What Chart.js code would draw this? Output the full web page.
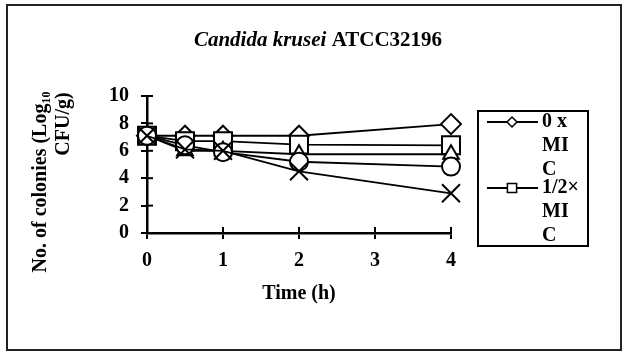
<!DOCTYPE html>
<html>
<head>
<meta charset="utf-8">
<script src="https://cdn.jsdelivr.net/npm/chart.js@4/dist/chart.umd.min.js"></script>
<style>
html,body{margin:0;padding:0;background:#fff;}
#wrap{position:absolute;left:0;top:0;width:624px;height:354px;}
</style>
</head>
<body>
<div id="wrap"><canvas id="c" width="624" height="354"></canvas></div>
<script>
const timePoints = [0, 0.5, 1, 2, 4];
const seriesLabels = ["0 x MIC", "1/2× MIC", "1× MIC", "2× MIC", "4× MIC"];
const zeroMIC = [7.1, 7.1, 7.1, 7.1, 7.95];
const halfMIC = [7.1, 6.7, 6.7, 6.45, 6.4];
const oneMIC = [7.1, 6.0, 6.0, 5.75, 5.75];
const twoMIC = [7.1, 6.4, 5.9, 5.2, 4.85];
const fourMIC = [7.1, 6.1, 6.0, 4.5, 2.9];
const yTicks = [0, 2, 4, 6, 8, 10];
const xTicks = [0, 1, 2, 3, 4];
const titleItalic = "Candida krusei";
const titleRest = " ATCC32196";
const xTitle = "Time (h)";
const yTitleLines = ["No. of colonies (Log₁₀", "CFU/g)"];
const legendLines = [["0 x", "MI", "C"], ["1/2×", "MI", "C"]];

const seriesValues = [zeroMIC, halfMIC, oneMIC, twoMIC, fourMIC];
const styles = [
  {ps: 'rectRot', r: 10, order: 5},
  {ps: 'rect', r: 12.7, order: 4},
  {ps: 'triangle', r: 9, order: 3},
  {ps: 'circle', r: 9, order: 2},
  {ps: 'crossRot', r: 12.7, order: 1}
];
const SERIF = "'Liberation Serif', 'Times New Roman', serif";

const datasets = seriesValues.map((vals, i) => ({
  label: seriesLabels[i],
  data: vals.map((v, k) => ({x: timePoints[k], y: v})),
  borderColor: '#000',
  borderWidth: 1.8,
  pointStyle: styles[i].ps,
  pointRadius: styles[i].r,
  pointBorderWidth: 2,
  pointBorderColor: '#000',
  pointBackgroundColor: '#fff',
  order: styles[i].order,
  tension: 0,
  fill: false,
  clip: false
}));

const decor = {
  id: 'decor',
  afterDraw(chart) {
    const ctx = chart.ctx;
    const xs = chart.scales.x, ys = chart.scales.y;
    ctx.save();
    ctx.strokeStyle = '#000';
    ctx.lineWidth = 2;
    yTicks.forEach(v => {
      const py = ys.getPixelForValue(v);
      ctx.beginPath(); ctx.moveTo(xs.left, py); ctx.lineTo(xs.left + 6, py); ctx.stroke();
    });
    xTicks.forEach(v => {
      const px = xs.getPixelForValue(v);
      ctx.beginPath(); ctx.moveTo(px, ys.bottom); ctx.lineTo(px, ys.bottom - 6); ctx.stroke();
    });
    ctx.fillStyle = '#000';
    ctx.textBaseline = 'middle';
    ctx.font = 'italic bold 21px ' + SERIF;
    const w1 = ctx.measureText(titleItalic).width;
    ctx.font = 'bold 21px ' + SERIF;
    const w2 = ctx.measureText(titleRest).width;
    const tx = 318 - (w1 + w2) / 2;
    ctx.font = 'italic bold 21px ' + SERIF;
    ctx.textAlign = 'left';
    ctx.fillText(titleItalic, tx, 41);
    ctx.font = 'bold 21px ' + SERIF;
    ctx.fillText(titleRest, tx + w1, 41);
    ctx.font = 'bold 20px ' + SERIF;
    ctx.textAlign = 'center';
    ctx.save(); ctx.translate(41, 182); ctx.rotate(-Math.PI / 2); ctx.fillText(yTitleLines[0], 0, 0); ctx.restore();
    ctx.save(); ctx.translate(64, 124); ctx.rotate(-Math.PI / 2); ctx.fillText(yTitleLines[1], 0, 0); ctx.restore();
    ctx.lineWidth = 2;
    ctx.strokeRect(478, 111, 110, 135);
    const entries = [{y: 122, ps: 'rectRot', r: 5}, {y: 188, ps: 'rect', r: 6.5}];
    entries.forEach((e, i) => {
      ctx.lineWidth = 1.8;
      ctx.beginPath(); ctx.moveTo(487, e.y); ctx.lineTo(538, e.y); ctx.stroke();
      ctx.fillStyle = '#fff';
      ctx.lineWidth = 1.5;
      Chart.helpers.drawPoint(ctx, {pointStyle: e.ps, radius: e.r, borderWidth: 1.5}, 512, e.y);
      ctx.fillStyle = '#000';
      ctx.font = 'bold 20px ' + SERIF;
      ctx.textAlign = 'left';
      legendLines[i].forEach((t, k) => ctx.fillText(t, 542, e.y + k * 24));
    });
    ctx.strokeStyle = '#222';
    ctx.lineWidth = 2;
    ctx.strokeRect(7, 5, 614, 345);
    ctx.restore();
  }
};

new Chart(document.getElementById('c'), {
  type: 'line',
  data: {datasets},
  options: {
    responsive: false,
    animation: false,
    layout: {padding: {left: 0, top: 96, right: 173, bottom: 46}},
    plugins: {legend: {display: false}, title: {display: false}, tooltip: {enabled: false}},
    scales: {
      x: {
        type: 'linear', min: 0, max: 4,
        afterFit: s => { s.height = 75; },
        afterBuildTicks: s => { s.ticks = xTicks.map(v => ({value: v})); },
        grid: {display: true, drawOnChartArea: false, drawTicks: true, tickLength: 6, color: '#000', lineWidth: 2},
        border: {display: true, color: '#000', width: 2.5},
        ticks: {color: '#000', padding: 10, font: {family: SERIF, size: 20, weight: 'bold'}, maxRotation: 0},
        title: {display: true, text: xTitle, color: '#000', font: {family: SERIF, size: 20, weight: 'bold'}, padding: {top: 0, bottom: 2}}
      },
      y: {
        min: 0, max: 10,
        afterFit: s => { s.width = 147; },
        afterBuildTicks: s => { s.ticks = yTicks.map(v => ({value: v})); },
        grid: {display: true, drawOnChartArea: false, drawTicks: true, tickLength: 6, color: '#000', lineWidth: 2},
        border: {display: true, color: '#000', width: 2.5},
        ticks: {color: '#000', padding: 12, font: {family: SERIF, size: 20, weight: 'bold'}}
      }
    }
  },
  plugins: [decor]
});
</script>
</body>
</html>
